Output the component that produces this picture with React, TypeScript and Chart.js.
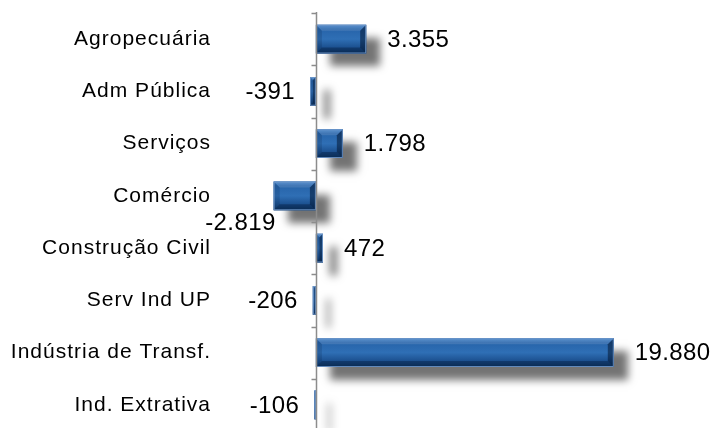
import React, { useEffect, useRef } from 'react';
import { Chart, registerables } from 'chart.js';

Chart.register(...registerables);

const categories = [
  'Agropecuária',
  'Adm Pública',
  'Serviços',
  'Comércio',
  'Construção Civil',
  'Serv Ind UP',
  'Indústria de Transf.',
  'Ind. Extrativa',
];
const values = [3355, -391, 1798, -2819, 472, -206, 19880, -106];
const axisMin = -6000;
const axisMax = 26300;

const FONT = '"Liberation Sans", Arial, Helvetica, sans-serif';

function fmt(v: number): string {
  const s = Math.abs(v).toString().replace(/\B(?=(\d{3})+(?!\d))/g, '.');
  return (v < 0 ? '-' : '') + s;
}

function poly(ctx: CanvasRenderingContext2D, pts: number[][], color: string) {
  ctx.beginPath();
  ctx.moveTo(pts[0][0], pts[0][1]);
  for (let i = 1; i < pts.length; i++) ctx.lineTo(pts[i][0], pts[i][1]);
  ctx.closePath();
  ctx.fillStyle = color;
  ctx.fill();
}

function drawBevel(ctx: CanvasRenderingContext2D, l: number, t: number, w: number, h: number) {
  const g = ctx.createLinearGradient(0, t, 0, t + h);
  g.addColorStop(0, '#4583c9');
  g.addColorStop(0.15, '#2764aa');
  g.addColorStop(0.5, '#2f6fb5');
  g.addColorStop(0.8, '#1b4f8e');
  g.addColorStop(1, '#103867');
  ctx.fillStyle = g;
  ctx.fillRect(l, t, w, h);
  const b = Math.min(6, w / 2, h / 3);
  poly(ctx, [[l, t], [l + w, t], [l + w - b, t + b], [l + b, t + b]], 'rgba(255,255,255,0.12)');
  poly(ctx, [[l, t + h], [l + w, t + h], [l + w - b, t + h - b], [l + b, t + h - b]], 'rgba(0,20,50,0.35)');
  poly(ctx, [[l, t], [l + b, t + b], [l + b, t + h - b], [l, t + h]], 'rgba(0,20,50,0.15)');
  poly(ctx, [[l + w, t], [l + w - b, t + b], [l + w - b, t + h - b], [l + w, t + h]], 'rgba(0,15,40,0.5)');
  ctx.strokeStyle = 'rgba(110,150,200,0.9)';
  ctx.lineWidth = 1;
  if (w > 1) ctx.strokeRect(l + 0.5, t + 0.5, w - 1, h - 1);
}

const bevelPlugin = {
  id: 'bevelBars',
  beforeDraw(chart: any) {
    (chart.ctx as any).letterSpacing = '1px';
  },
  beforeDatasetsDraw(chart: any) {
    (chart.ctx as any).letterSpacing = '0px';
  },
  afterDatasetsDraw(chart: any) {
    const ctx: CanvasRenderingContext2D = chart.ctx;
    const meta = chart.getDatasetMeta(0);
    const xs = chart.scales.x;
    const ys = chart.scales.y;
    const area = chart.chartArea;
    const rects = meta.data.map((el: any) => {
      const p = el.getProps(['x', 'y', 'base', 'height'], true);
      const l = Math.min(p.x, p.base);
      const r = Math.max(p.x, p.base);
      return { l, r, t: p.y - p.height / 2, w: r - l, h: p.height, x: p.x, y: p.y };
    });
    // shadows
    rects.forEach((b: any) => {
      ctx.save();
      ctx.shadowColor = 'rgba(0,0,0,0.55)';
      ctx.shadowBlur = 8;
      ctx.shadowOffsetX = 14;
      ctx.shadowOffsetY = 13;
      ctx.fillStyle = '#1f5595';
      ctx.fillRect(b.l, b.t, Math.max(b.w, 2), b.h);
      ctx.restore();
    });
    // bars
    rects.forEach((b: any) => {
      ctx.save();
      drawBevel(ctx, b.l, b.t, Math.max(b.w, 2), b.h);
      ctx.restore();
    });
    // axis at zero
    const x0 = Math.round(xs.getPixelForValue(0)) + 0.5;
    ctx.save();
    ctx.strokeStyle = '#8c8c8c';
    ctx.lineWidth = 1.5;
    ctx.beginPath();
    ctx.moveTo(x0, area.top - 1);
    ctx.lineTo(x0, area.bottom);
    const n = categories.length;
    for (let i = 0; i <= n; i++) {
      const yy = Math.round(area.top + (i * (area.bottom - area.top)) / n) + 0.5;
      ctx.moveTo(x0 - 5, yy);
      ctx.lineTo(x0, yy);
    }
    ctx.stroke();
    ctx.restore();
    // value labels
    ctx.save();
    ctx.font = '24px ' + FONT;
    (ctx as any).letterSpacing = '0.4px';
    ctx.fillStyle = '#000';
    ctx.textBaseline = 'middle';
    rects.forEach((b: any, i: number) => {
      const v = values[i];
      const txt = fmt(v);
      const tw = ctx.measureText(txt).width;
      const cy = ys.getPixelForValue(i);
      if (v >= 0) {
        ctx.textAlign = 'left';
        ctx.fillText(txt, b.r + 21, cy + 1);
      } else {
        let right = b.l - 15;
        let yy = cy + 1;
        if (right - tw < ys.right - 10) {
          right = b.l + 2;
          yy = cy + 27;
        }
        ctx.textAlign = 'right';
        ctx.fillText(txt, right, yy);
      }
    });
    ctx.restore();
  },
};

export default function App() {
  const ref = useRef<HTMLCanvasElement | null>(null);
  useEffect(() => {
    if (!ref.current) return;
    const chart = new Chart(ref.current, {
      type: 'bar',
      data: {
        labels: categories,
        datasets: [
          {
            data: values,
            backgroundColor: 'rgba(0,0,0,0)',
            borderWidth: 0,
            barPercentage: 0.55,
            categoryPercentage: 1,
          },
        ],
      },
      options: {
        indexAxis: 'y',
        responsive: false,
        animation: false,
        devicePixelRatio: 1,
        layout: { padding: { top: 13, bottom: 9, left: 0, right: 0 } },
        plugins: { legend: { display: false }, tooltip: { enabled: false } },
        scales: {
          x: { display: false, min: axisMin, max: axisMax },
          y: {
            grid: { display: false, drawTicks: false },
            border: { display: false },
            ticks: { padding: 15, color: '#000', font: { family: FONT, size: 21 } },
            afterFit(s: any) {
              s.width = 226;
              s.paddingTop = 0;
              s.paddingBottom = 0;
            },
          },
        },
      },
      plugins: [bevelPlugin],
    } as any);
    return () => chart.destroy();
  }, []);
  return (
    <div
      style={{
        position: 'fixed',
        left: 0,
        top: 0,
        width: 710,
        height: 428,
        overflow: 'hidden',
        background: '#fff',
      }}
    >
      <canvas ref={ref} width={710} height={440} style={{ display: 'block' }} />
    </div>
  );
}
